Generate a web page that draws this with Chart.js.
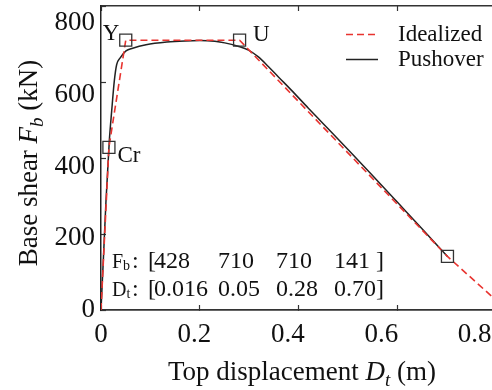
<!DOCTYPE html>
<html>
<head>
<meta charset="utf-8">
<script src="https://cdn.jsdelivr.net/npm/chart.js@4.4.0/dist/chart.umd.min.js"></script>
<style>
  html, body { margin: 0; padding: 0; background: #fff; overflow: hidden; }
</style>
</head>
<body>
<canvas id="pushChart" width="492" height="390"></canvas>
<script>
// pushover curve: top displacement (m) / base shear (kN)
var pushD = [0, 0.005, 0.010, 0.0168, 0.0216, 0.0269, 0.0317, 0.0384, 0.0505, 0.064, 0.091, 0.133, 0.17, 0.20, 0.23, 0.25, 0.277, 0.298, 0.318, 0.338, 0.358, 0.385, 0.419, 0.45, 0.50, 0.55, 0.60, 0.65, 0.70];
var pushF = [0, 140, 285, 445, 524, 603, 646, 663, 682, 689, 698, 705, 708, 709, 707, 703, 694, 684, 666, 641, 614, 578, 531, 489, 421, 352, 282, 212, 141];

// idealized multi-linear curve
var idealD = [0, 0.016, 0.05, 0.28, 0.70, 0.82];
var idealF = [0, 428, 710, 710, 141, 0];

// key points (Cr, Y, U, end)
var keyD = [0.016, 0.05, 0.28, 0.70];
var keyF = [428, 710, 710, 141];
var keyNames = ['Cr', 'Y', 'U', ''];

var seriesNames = ['Idealized', 'Pushover'];

// ticks
var xTicks = [0, 0.2, 0.4, 0.6, 0.8];
var xTickLabels = ['0', '0.2', '0.4', '0.6', '0.8'];
var yTicks = [0, 200, 400, 600, 800];
var yTickLabels = ['0', '200', '400', '600', '800'];

function pts(xs, ys) {
    return xs.map(function (x, i) { return { x: x, y: ys[i] }; });
}

var SERIF = '"Liberation Serif", "Times New Roman", serif';
Chart.defaults.font.family = SERIF;
Chart.defaults.color = '#111';

// scale helpers
function useTicks(vals) {
    return function (s) {
        s.ticks = vals.filter(function (v) { return v >= s.min && v <= s.max; })
            .map(function (v) { return { value: v }; });
    };
}
function fixSize(w, h) {
    return function (s) {
        if (w !== null) s.width = w;
        if (h !== null) s.height = h;
        s.paddingLeft = s.paddingRight = s.paddingTop = s.paddingBottom = 0;
    };
}

// rich text (italic / subscript)
function richWidth(c, segs) {
    var w = 0;
    segs.forEach(function (s) { c.font = s.font; w += c.measureText(s.text).width; });
    return w;
}
function richText(c, segs, x, y) {
    segs.forEach(function (s) {
        c.font = s.font;
        c.fillText(s.text, x, y + (s.dy || 0));
        x += c.measureText(s.text).width;
    });
}

var keyLabelPlace = { Cr: ['left', 8.5, 14.5], Y: ['right', -6.5, -0.5], U: ['left', 13.5, 1] };

var decor = {
    id: 'decor',
    afterDraw: function (chart) {
        var c = chart.ctx, a = chart.chartArea;
        var reg = '27px ' + SERIF, it = 'italic 27px ' + SERIF, sub = 'italic 19px ' + SERIF;
        c.save();
        c.fillStyle = '#111';
        c.textBaseline = 'alphabetic';

        // axis titles
        var xt = [{ text: 'Top displacement ', font: reg }, { text: 'D', font: it },
                  { text: 't', font: sub, dy: 6 }, { text: ' (m)', font: reg }];
        richText(c, xt, 302 - richWidth(c, xt) / 2, 380);

        var yt = [{ text: 'Base shear ', font: reg }, { text: 'F', font: it },
                  { text: 'b', font: sub, dy: 6 }, { text: ' (kN)', font: reg }];
        c.save();
        c.translate(37, (a.top + a.bottom) / 2 + 5);
        c.rotate(-Math.PI / 2);
        richText(c, yt, -richWidth(c, yt) / 2, 0);
        c.restore();

        // key point names
        c.font = '23px ' + SERIF;
        chart.getDatasetMeta(0).data.forEach(function (p, i) {
            var pl = keyLabelPlace[keyNames[i]];
            if (!pl) return;
            c.textAlign = pl[0];
            c.fillText(keyNames[i], p.x + pl[1], p.y + pl[2]);
        });
        c.textAlign = 'left';

        // value box
        var cols = [154, 218, 276, 334];
        var rows = [
            { main: 'F', sub: 'b', vals: keyF.map(String), y: 268 },
            { main: 'D', sub: 't', vals: keyD.map(function (v) {
                var dec = (String(v).split('.')[1] || '').length;
                return v.toFixed(Math.max(2, dec));
            }), y: 296 }
        ];
        rows.forEach(function (r, ri) {
            richText(c, [{ text: r.main, font: '20px ' + SERIF }, { text: r.sub, font: '14px ' + SERIF, dy: 2 }], 112, r.y);
            c.font = '24px ' + SERIF;
            c.fillText(':', 132, r.y);
            c.fillText('[', 148, r.y);
            r.vals.forEach(function (v, i) {
                var last = i === r.vals.length - 1;
                c.fillText(v + (last ? (ri === 0 ? ' ]' : ']') : ''), cols[i], r.y);
            });
        });

        // legend
        c.font = '23px ' + SERIF;
        c.textBaseline = 'middle';
        [1, 2].forEach(function (di, k) {
            var ds = chart.data.datasets[di];
            var y = a.top + 28.5 + k * 25;
            c.save();
            c.strokeStyle = ds.borderColor;
            c.lineWidth = ds.borderWidth;
            c.setLineDash(ds.borderDash || []);
            c.beginPath();
            c.moveTo(a.right - 146, y);
            c.lineTo(a.right - 114, y);
            c.stroke();
            c.restore();
            c.fillText(ds.label, a.right - 94, y);
        });
        c.restore();
    }
};

var xMax = 0.79;
var ctx = document.getElementById('pushChart').getContext('2d');
var pushChart = new Chart(ctx, {
    type: 'scatter',
    data: {
        datasets: [
            {
                label: 'key points',
                data: pts(keyD, keyF),
                showLine: false,
                pointStyle: 'rect',
                pointRadius: 8.5,
                pointBorderWidth: 1.3,
                pointBorderColor: '#333',
                pointBackgroundColor: 'rgba(0,0,0,0)',
                order: 0
            },
            {
                label: seriesNames[0],
                data: pts(idealD, idealF),
                showLine: true,
                borderColor: '#e8332f',
                borderWidth: 1.6,
                borderDash: [7, 4],
                pointRadius: 0,
                order: 1
            },
            {
                label: seriesNames[1],
                data: pts(pushD, pushF),
                showLine: true,
                borderColor: '#222',
                borderWidth: 1.5,
                cubicInterpolationMode: 'monotone',
                pointRadius: 0,
                order: 2
            }
        ]
    },
    options: {
        responsive: false,
        animation: false,
        layout: { padding: 0, autoPadding: false },
        plugins: {
            legend: { display: false },
            tooltip: { enabled: false }
        },
        scales: {
            // data axes: frame + inward tick marks
            x: {
                type: 'linear', position: 'bottom', weight: 0, min: 0, max: xMax,
                afterBuildTicks: useTicks(xTicks), afterFit: fixSize(null, 0),
                ticks: { display: false },
                grid: { drawOnChartArea: false, tickLength: -5, color: '#333', tickWidth: 1.2 },
                border: { color: '#333', width: 1.8 }
            },
            xt: {
                type: 'linear', position: 'top', min: 0, max: xMax,
                afterBuildTicks: useTicks(xTicks), afterFit: fixSize(null, 6),
                ticks: { display: false },
                grid: { drawOnChartArea: false, tickLength: -5, color: '#333', tickWidth: 1.2 },
                border: { color: '#333', width: 1.5 }
            },
            y: {
                type: 'linear', position: 'left', weight: 0, min: 0, max: 800,
                afterBuildTicks: useTicks(yTicks), afterFit: fixSize(0, null),
                ticks: { display: false },
                grid: { drawOnChartArea: false, tickLength: -5, color: '#333', tickWidth: 1.2 },
                border: { color: '#222', width: 1.5 }
            },
            // tick labels: in the original they sit on a slightly shorter scale than the frame
            xl: {
                type: 'linear', position: 'bottom', weight: 1, min: 0, max: 0.837,
                afterBuildTicks: useTicks(xTicks), afterFit: fixSize(null, 80),
                ticks: {
                    padding: 9,
                    font: { size: 27 },
                    callback: function (v, i) { return xTickLabels[i]; }
                },
                grid: { display: false, drawTicks: false },
                border: { display: false }
            },
            yl: {
                type: 'linear', position: 'left', weight: 1, min: 0, max: 847,
                afterBuildTicks: useTicks(yTicks), afterFit: fixSize(101, null),
                ticks: {
                    padding: 6,
                    font: { size: 27 },
                    callback: function (v, i) { return yTickLabels[i]; }
                },
                grid: { display: false, drawTicks: false },
                border: { display: false }
            }
        }
    },
    plugins: [decor]
});
</script>
</body>
</html>
